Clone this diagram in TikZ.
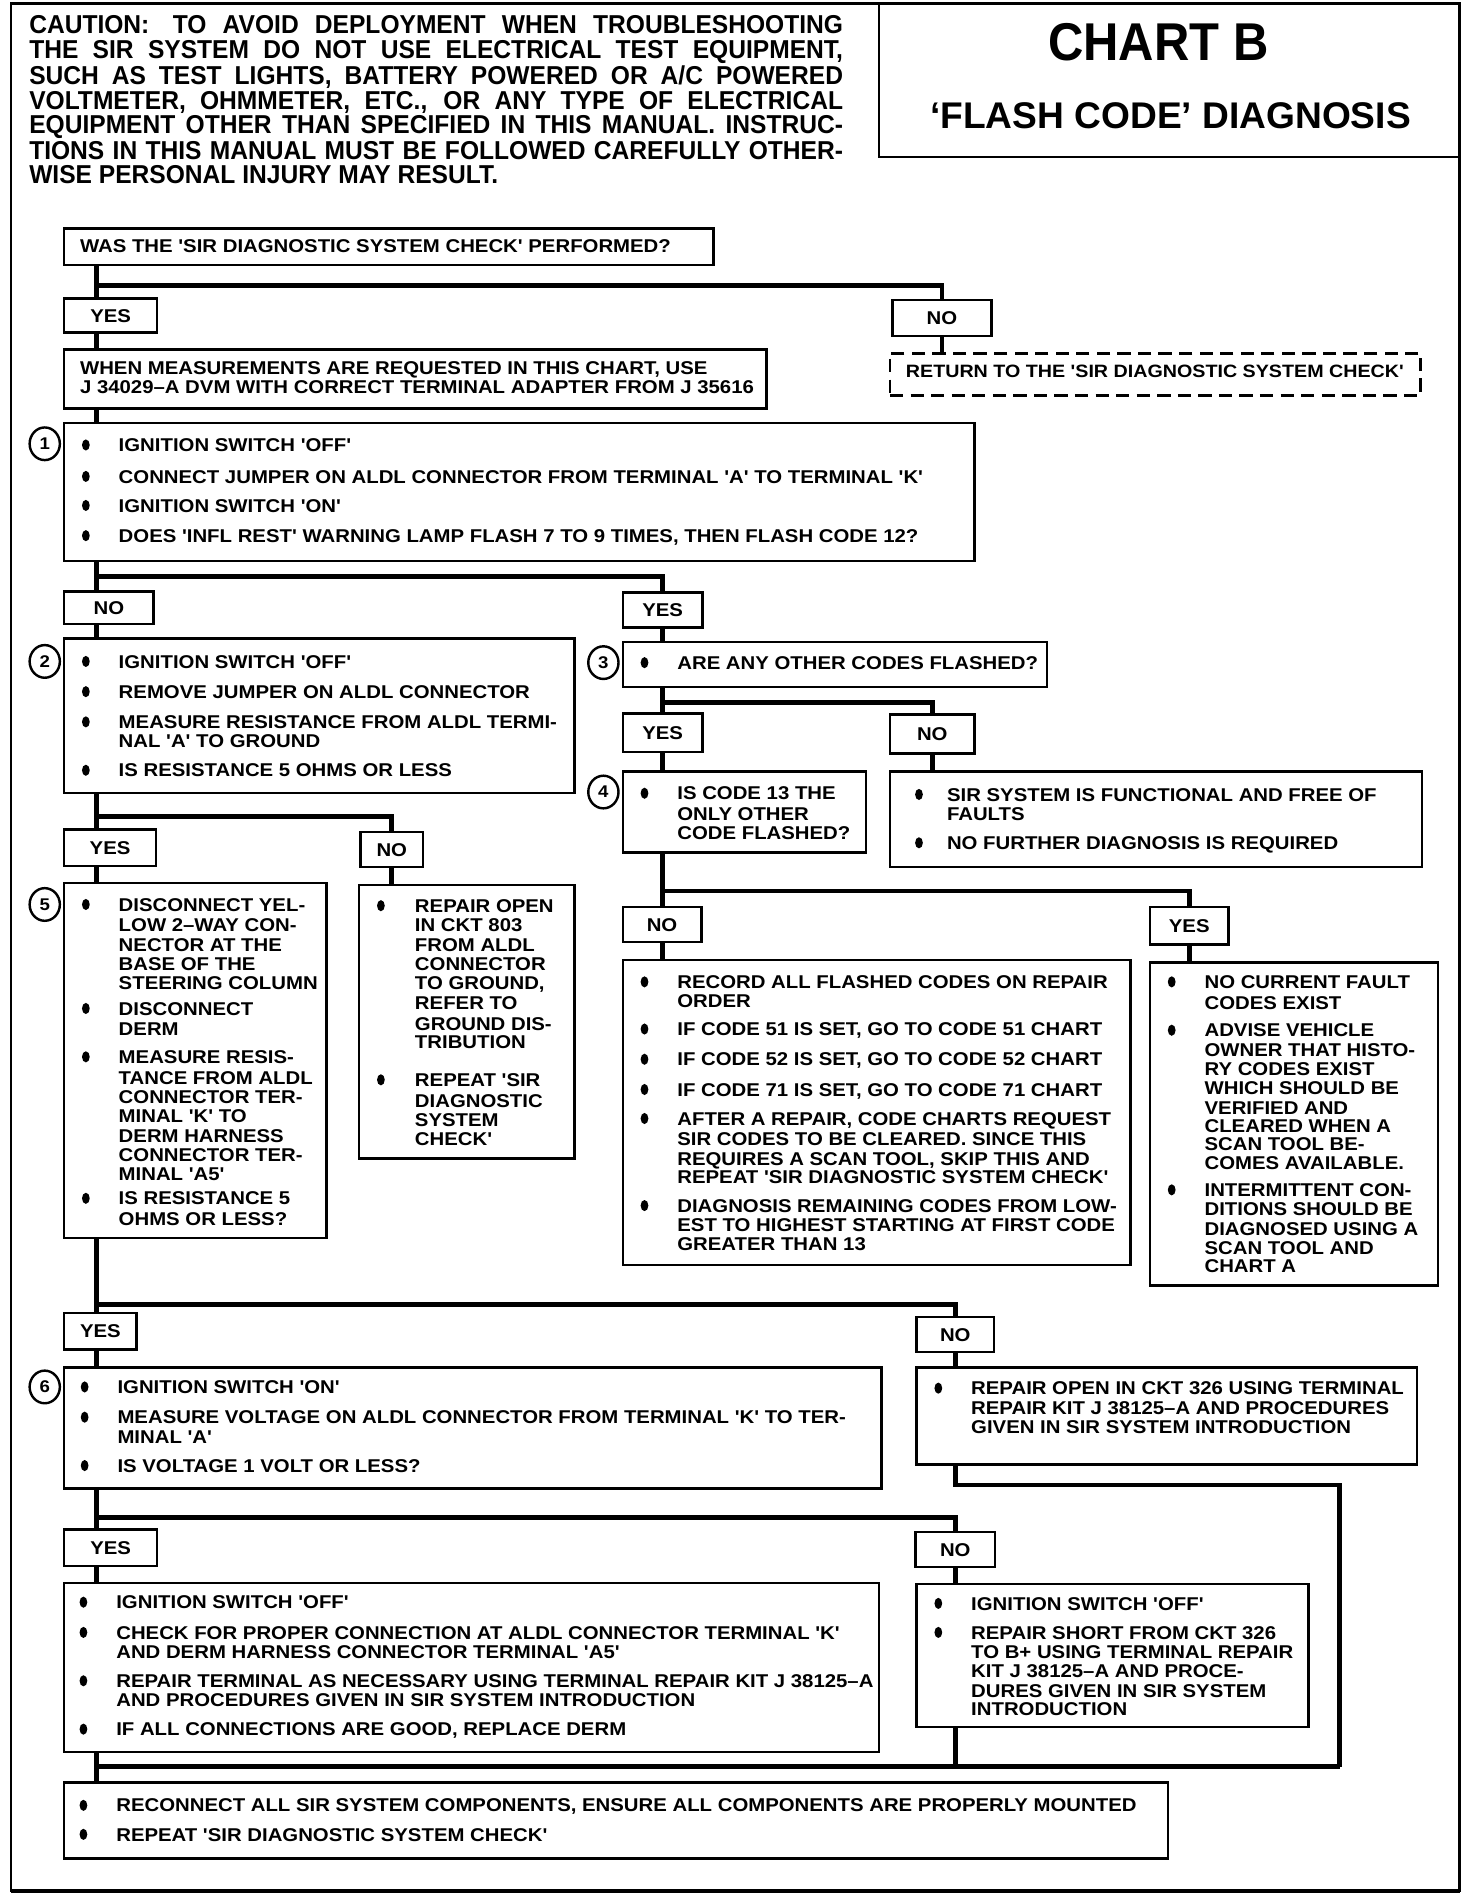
\documentclass[tikz,border=0pt]{standalone}
\usepackage{fontspec}
\newfontfamily\bx{Liberation Sans}[FakeStretch=1.1]
\newfontfamily\bxn{Liberation Sans}[FakeStretch=0.92]
\newfontfamily\bxc{Liberation Sans}[FakeStretch=0.95]
\newfontfamily\bxp{Liberation Sans}
\usetikzlibrary{fit,shapes.geometric,calc}
\newcounter{tn}
\tikzset{
  box/.style={draw, line width=2pt, inner sep=0pt},
  dbox/.style={box, line width=2.4pt, dash pattern=on 11pt off 6pt},
  conn/.style={line width=3.8pt, line join=miter},
  txt/.style={anchor=base west, inner sep=0pt, font=\bx\bfseries\fontsize{15.3}{16}\selectfont},
  lbl/.style={anchor=base, inner sep=0pt, font=\bx\bfseries\fontsize{15.3}{16}\selectfont},
  ctxt/.style={anchor=base west, inner sep=0pt, font=\bxc\bfseries\fontsize{21.4}{22}\selectfont},
  numc/.style={draw, ellipse, line width=2pt, minimum width=25pt, minimum height=27pt, inner sep=0pt, font=\bx\bfseries\fontsize{14}{14}\selectfont}
}
\newcommand\tline[3]{\stepcounter{tn}\node[txt] (t\arabic{tn}) at (#1,{#2+5.5}) {#3};}
\newcommand\bitem[4]{\fill (#1,#3) ellipse [x radius=3.2, y radius=4.6]; \tline{#2}{#3}{#4}}
\newcommand\cautl[2]{\stepcounter{tn}\node[ctxt] (t\arabic{tn}) at (24,{#1+7.6}) {\makebox[673pt][s]{#2}};}
\newcommand\ynbox[6]{\node[box, fit={(#2,#3) (#4,#5)}] (#1) {}; \node[lbl] (#1l) at ($(#1.center)+(0,5.5)$) {#6};}
\begin{document}
\begin{tikzpicture}[x=1pt,y=-1pt]
\useasboundingbox (0,0) rectangle (1217,1568);
\draw[line width=2pt] (9,3) rectangle (1207,1564);
\draw[line width=3pt] (9,1564) -- (1207,1564);
% caution
\cautl{20}{CAUTION:\hspace{6pt} TO AVOID DEPLOYMENT WHEN TROUBLESHOOTING}
\cautl{41}{THE SIR SYSTEM DO NOT USE ELECTRICAL TEST EQUIPMENT,}
\cautl{62}{SUCH AS TEST LIGHTS, BATTERY POWERED OR A/C POWERED}
\cautl{83}{VOLTMETER, OHMMETER, ETC., OR ANY TYPE OF ELECTRICAL}
\cautl{103}{EQUIPMENT OTHER THAN SPECIFIED IN THIS MANUAL. INSTRUC-}
\cautl{124}{TIONS IN THIS MANUAL MUST BE FOLLOWED CAREFULLY OTHER-}
\node[ctxt] (cl7) at (24,151.6) {WISE PERSONAL INJURY MAY RESULT.};
% chart title
\node[box, fit={(727,3) (1207,130)}] (chart) {};
\node[inner sep=0pt, font=\bxn\bfseries\fontsize{44}{44}\selectfont] (ttl) at (958,35) {CHART B};
\node[inner sep=0pt, font=\bxp\bfseries\fontsize{30.7}{31}\selectfont] (sub) at (968,96) {‘FLASH CODE’ DIAGNOSIS};

% ---- boxes ----
\node[box, fit={(53,189) (590,219)}] (q0) {};
\tline{66}{203}{WAS THE 'SIR DIAGNOSTIC SYSTEM CHECK' PERFORMED?}
\ynbox{yes1}{53}{247}{130}{275}{YES}
\ynbox{no1}{738}{248}{820}{278}{NO}
\node[box, fit={(53,289) (634,338)}] (m) {};
\tline{66}{304}{WHEN MEASUREMENTS ARE REQUESTED IN THIS CHART, USE}
\tline{66}{320}{J 34029–A DVM WITH CORRECT TERMINAL ADAPTER FROM J 35616}
\node[dbox, fit={(736,292) (1175,327)}] (ret) {};
\node[txt, font=\bx\bfseries\fontsize{14.8}{16}\selectfont] (rett) at (749,312.5) {RETURN TO THE 'SIR DIAGNOSTIC SYSTEM CHECK'};

\node[box, fit={(53,350) (806,464)}] (b1) {};
\node[numc] (c1) at (37,367) {1};
\bitem{71}{98}{368}{IGNITION SWITCH 'OFF'}
\bitem{71}{98}{394}{CONNECT JUMPER ON ALDL CONNECTOR FROM TERMINAL 'A' TO TERMINAL 'K'}
\bitem{71}{98}{418}{IGNITION SWITCH 'ON'}
\bitem{71}{98}{443}{DOES 'INFL REST' WARNING LAMP FLASH 7 TO 9 TIMES, THEN FLASH CODE 12?}

\ynbox{no2}{53}{489}{127}{516}{NO}
\ynbox{yes2}{515}{490}{581}{519}{YES}

\node[box, fit={(53,528) (475,656)}] (b2) {};
\node[numc] (c2) at (37,547) {2};
\bitem{71}{98}{547}{IGNITION SWITCH 'OFF'}
\bitem{71}{98}{572}{REMOVE JUMPER ON ALDL CONNECTOR}
\bitem{71}{98}{597}{MEASURE RESISTANCE FROM ALDL TERMI-}
\tline{98}{613}{NAL 'A' TO GROUND}
\bitem{71}{98}{637}{IS RESISTANCE 5 OHMS OR LESS}

\node[box, fit={(515,531) (866,568)}] (b3) {};
\node[numc] (c3) at (499,548) {3};
\bitem{533}{560}{548}{ARE ANY OTHER CODES FLASHED?}

\ynbox{yes3}{515}{590}{581}{622}{YES}
\ynbox{no3}{736}{591}{806}{623}{NO}

\node[box, fit={(515,638) (716,705)}] (b4) {};
\node[numc] (c4) at (499,655) {4};
\bitem{533}{560}{656}{IS CODE 13 THE}
\tline{560}{673}{ONLY OTHER}
\tline{560}{689}{CODE FLASHED?}

\node[box, fit={(736,638) (1176,717)}] (bF) {};
\bitem{760}{783}{657}{SIR SYSTEM IS FUNCTIONAL AND FREE OF}
\tline{783}{673}{FAULTS}
\bitem{760}{783}{697}{NO FURTHER DIAGNOSIS IS REQUIRED}

\ynbox{yes4}{53}{686}{129}{716}{YES}
\ynbox{no4}{298}{688}{350}{717}{NO}

\node[box, fit={(53,730) (270,1024)}] (b5) {};
\node[numc] (c5) at (37,748) {5};
\bitem{71}{98}{748}{DISCONNECT YEL-}
\tline{98}{765}{LOW 2–WAY CON-}
\tline{98}{781}{NECTOR AT THE}
\tline{98}{797}{BASE OF THE}
\tline{98}{813}{STEERING COLUMN}
\bitem{71}{98}{834}{DISCONNECT}
\tline{98}{851}{DERM}
\bitem{71}{98}{874}{MEASURE RESIS-}
\tline{98}{891}{TANCE FROM ALDL}
\tline{98}{907}{CONNECTOR TER-}
\tline{98}{923}{MINAL 'K' TO}
\tline{98}{939}{DERM HARNESS}
\tline{98}{955}{CONNECTOR TER-}
\tline{98}{971}{MINAL 'A5'}
\bitem{71}{98}{991}{IS RESISTANCE 5}
\tline{98}{1008}{OHMS OR LESS?}

\node[box, fit={(297,732) (475,958)}] (bR) {};
\bitem{315}{343}{749}{REPAIR OPEN}
\tline{343}{765}{IN CKT 803}
\tline{343}{781}{FROM ALDL}
\tline{343}{797}{CONNECTOR}
\tline{343}{813}{TO GROUND,}
\tline{343}{829}{REFER TO}
\tline{343}{847}{GROUND DIS-}
\tline{343}{862}{TRIBUTION}
\bitem{315}{343}{893}{REPEAT 'SIR}
\tline{343}{910}{DIAGNOSTIC}
\tline{343}{926}{SYSTEM}
\tline{343}{942}{CHECK'}

\ynbox{no5}{515}{750}{580}{779}{NO}
\ynbox{yes5}{951}{750}{1016}{781}{YES}

\node[box, fit={(515,794) (935,1046)}] (bL) {};
\bitem{533}{560}{812}{RECORD ALL FLASHED CODES ON REPAIR}
\tline{560}{828}{ORDER}
\bitem{533}{560}{851}{IF CODE 51 IS SET, GO TO CODE 51 CHART}
\bitem{533}{560}{876}{IF CODE 52 IS SET, GO TO CODE 52 CHART}
\bitem{533}{560}{901}{IF CODE 71 IS SET, GO TO CODE 71 CHART}
\bitem{533}{560}{925}{AFTER A REPAIR, CODE CHARTS REQUEST}
\tline{560}{942}{SIR CODES TO BE CLEARED. SINCE THIS}
\tline{560}{958}{REQUIRES A SCAN TOOL, SKIP THIS AND}
\tline{560}{973}{REPEAT 'SIR DIAGNOSTIC SYSTEM CHECK'}
\bitem{533}{560}{997}{DIAGNOSIS REMAINING CODES FROM LOW-}
\tline{560}{1013}{EST TO HIGHEST STARTING AT FIRST CODE}
\tline{560}{1029}{GREATER THAN 13}

\node[box, fit={(951,796) (1189,1063)}] (bY) {};
\bitem{969}{996}{812}{NO CURRENT FAULT}
\tline{996}{829}{CODES EXIST}
\bitem{969}{996}{852}{ADVISE VEHICLE}
\tline{996}{868}{OWNER THAT HISTO-}
\tline{996}{884}{RY CODES EXIST}
\tline{996}{900}{WHICH SHOULD BE}
\tline{996}{916}{VERIFIED AND}
\tline{996}{931}{CLEARED WHEN A}
\tline{996}{946}{SCAN TOOL BE-}
\tline{996}{962}{COMES AVAILABLE.}
\bitem{969}{996}{984}{INTERMITTENT CON-}
\tline{996}{1000}{DITIONS SHOULD BE}
\tline{996}{1016}{DIAGNOSED USING A}
\tline{996}{1032}{SCAN TOOL AND}
\tline{996}{1047}{CHART A}

\ynbox{yes6}{53}{1086}{113}{1116}{YES}
\ynbox{no6}{758}{1089}{822}{1118}{NO}

\node[box, fit={(53,1131) (729,1231)}] (b6) {};
\node[numc] (c6) at (37,1147) {6};
\bitem{70}{97}{1147}{IGNITION SWITCH 'ON'}
\bitem{70}{97}{1172}{MEASURE VOLTAGE ON ALDL CONNECTOR FROM TERMINAL 'K' TO TER-}
\tline{97}{1188}{MINAL 'A'}
\bitem{70}{97}{1212}{IS VOLTAGE 1 VOLT OR LESS?}

\node[box, fit={(758,1131) (1172,1211)}] (bC) {};
\bitem{776}{803}{1148}{REPAIR OPEN IN CKT 326 USING TERMINAL}
\tline{803}{1164}{REPAIR KIT J 38125–A AND PROCEDURES}
\tline{803}{1180}{GIVEN IN SIR SYSTEM INTRODUCTION}

\ynbox{yes7}{53}{1265}{130}{1295}{YES}
\ynbox{no7}{757}{1267}{823}{1296}{NO}

\node[box, fit={(53,1309) (727,1449)}] (b7) {};
\bitem{69}{96}{1325}{IGNITION SWITCH 'OFF'}
\bitem{69}{96}{1350}{CHECK FOR PROPER CONNECTION AT ALDL CONNECTOR TERMINAL 'K'}
\tline{96}{1366}{AND DERM HARNESS CONNECTOR TERMINAL 'A5'}
\bitem{69}{96}{1390}{REPAIR TERMINAL AS NECESSARY USING TERMINAL REPAIR KIT J 38125–A}
\tline{96}{1406}{AND PROCEDURES GIVEN IN SIR SYSTEM INTRODUCTION}
\bitem{69}{96}{1430}{IF ALL CONNECTIONS ARE GOOD, REPLACE DERM}

\node[box, fit={(758,1310) (1082,1428)}] (bN) {};
\bitem{776}{803}{1326}{IGNITION SWITCH 'OFF'}
\bitem{776}{803}{1350}{REPAIR SHORT FROM CKT 326}
\tline{803}{1366}{TO B+ USING TERMINAL REPAIR}
\tline{803}{1382}{KIT J 38125–A AND PROCE-}
\tline{803}{1398}{DURES GIVEN IN SIR SYSTEM}
\tline{803}{1413}{INTRODUCTION}

\node[box, fit={(53,1474) (966,1537)}] (fin) {};
\bitem{69}{96}{1493}{RECONNECT ALL SIR SYSTEM COMPONENTS, ENSURE ALL COMPONENTS ARE PROPERLY MOUNTED}
\bitem{69}{96}{1517}{REPEAT 'SIR DIAGNOSTIC SYSTEM CHECK'}

% ---- connectors ----
\coordinate (j0) at (80,236);
\draw[conn] (q0.south -| j0) -- (j0 |- yes1.north);
\draw[conn] (j0) -| (no1.north);
\draw[conn] (yes1.south -| j0) -- (j0 |- m.north);
\draw[conn] (no1.south) -- (no1.south |- ret.north);
\draw[conn] (m.south -| j0) -- (j0 |- b1.north);

\coordinate (j1) at (80,477);
\draw[conn] (b1.south -| j1) -- (j1 |- no2.north);
\draw[conn] (j1) -| (yes2.north);
\draw[conn] (no2.south -| j1) -- (j1 |- b2.north);
\draw[conn] (yes2.south) -- (yes2.south |- b3.north);

\coordinate (j3) at (548,581);
\draw[conn] (b3.south -| j3) -- (j3 |- yes3.north);
\draw[conn] (j3) -| (no3.north);
\draw[conn] (yes3.south -| j3) -- (j3 |- b4.north);
\draw[conn] (no3.south) -- (no3.south |- bF.north);

\coordinate (j2) at (80,675);
\draw[conn] (b2.south -| j2) -- (j2 |- yes4.north);
\draw[conn] (j2) -| (no4.north);
\draw[conn] (yes4.south -| j2) -- (j2 |- b5.north);
\draw[conn] (no4.south) -- (no4.south |- bR.north);

\coordinate (j4) at (548,737);
\draw[conn] (b4.south -| j4) -- (j4 |- no5.north);
\draw[conn] (j4) -| (yes5.north);
\draw[conn] (no5.south -| j4) -- (j4 |- bL.north);
\draw[conn] (yes5.south) -- (yes5.south |- bY.north);

\coordinate (j5) at (80,1079);
\draw[conn] (b5.south -| j5) -- (j5 |- yes6.north);
\draw[conn] (j5) -| (no6.north);
\draw[conn] (yes6.south -| j5) -- (j5 |- b6.north);
\draw[conn] (no6.south) -- (no6.south |- bC.north);

\coordinate (k0) at (1108,1228);
\coordinate (k1) at (1108,1461);
\draw[conn] (bC.south -| no6.south) -- (k0 -| no6.south) -- (k0) -- (k1);

\coordinate (j6) at (80,1255);
\draw[conn] (b6.south -| j6) -- (j6 |- yes7.north);
\draw[conn] (j6) -| (no7.north);
\draw[conn] (yes7.south -| j6) -- (j6 |- b7.north);
\draw[conn] (no7.south) -- (no7.south |- bN.north);
\draw[conn] (bN.south -| no7.south) -- (k1 -| no7.south);
\draw[conn] (b7.south -| j6) -- (j6 |- fin.north);
\draw[conn] (j6 |- k1) -- (k1);
\end{tikzpicture}
\end{document}
